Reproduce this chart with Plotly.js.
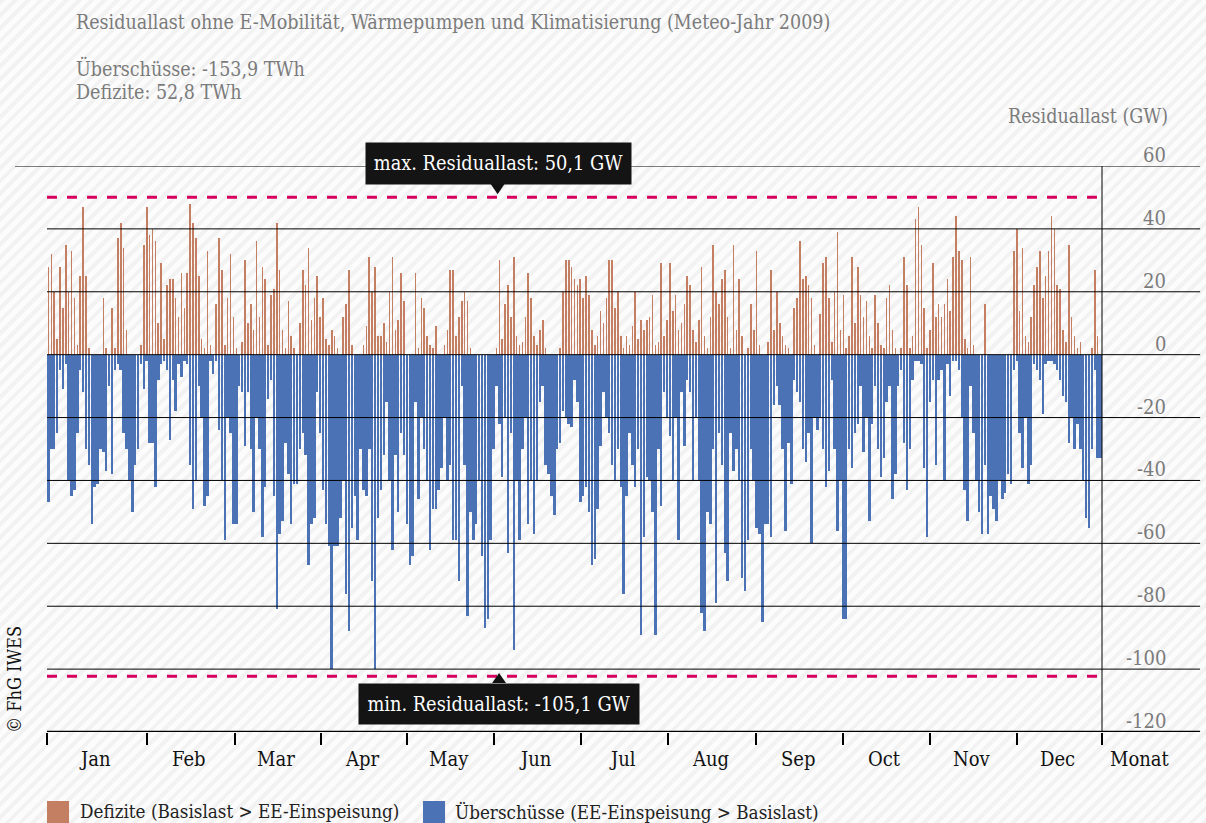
<!DOCTYPE html>
<html><head><meta charset="utf-8">
<script src="https://cdn.plot.ly/plotly-3.0.1.min.js"></script>
<style>
html,body{margin:0;padding:0;}
body{width:1206px;height:823px;overflow:hidden;background-color:#f7f7f7;
background-image:repeating-linear-gradient(135deg,#f2f2f2 0px,#f2f2f2 4px,#fcfcfc 4px,#fcfcfc 9px);}
#chart{width:1206px;height:823px;}
</style></head><body><div id="chart"></div><script>
// Daily maximum deficit (GW, positive residual load)
const deficits = [28,32,20,5,28,15,35,20,33,18,
3,25,47,25,2,0,0,0,0,18,
2,0,15,2,37,42,34,8,0,0,
0,0,3,35,47,38,40,36,10,29,
5,22,24,24,18,12,26,15,26,48,
42,37,25,5,2,33,3,0,16,37,
27,3,18,32,12,2,0,4,30,10,
16,8,36,12,28,24,3,19,21,42,
27,8,2,17,6,2,0,10,27,22,
34,11,18,25,12,18,5,3,8,6,
2,0,12,16,27,3,0,0,0,3,
9,31,20,28,6,6,10,4,20,31,
8,11,26,17,0,0,0,26,2,18,
15,6,3,2,9,0,0,3,8,27,
27,6,12,17,20,17,2,0,0,0,
0,0,0,0,0,2,30,5,16,22,
12,31,6,3,4,12,26,18,6,3,
8,11,2,0,0,0,0,2,20,30,
30,28,24,22,24,18,25,19,8,3,
6,14,10,18,30,30,15,20,6,2,
6,3,9,20,5,11,8,11,12,19,
3,4,29,6,11,29,14,19,8,10,
16,25,22,8,4,11,28,6,2,12,
35,20,16,24,27,12,2,35,8,24,
6,0,2,16,8,33,3,0,0,4,
27,8,20,10,6,3,2,0,15,18,
36,24,25,22,18,3,0,13,29,31,
18,4,20,39,8,19,2,6,31,10,
28,19,12,17,6,2,19,10,3,2,
18,22,8,2,0,2,31,22,2,6,
43,47,35,15,2,8,29,12,16,12,
16,24,14,31,44,33,30,5,2,31,
3,0,0,0,16,0,0,0,0,0,
0,0,0,0,33,40,14,34,6,4,
12,22,28,33,18,25,33,44,40,22,
21,8,4,35,12,6,2,4,0,0,
0,2,27,6,0];

// Daily maximum surplus (GW, negative residual load)
const surpluses = [-47,-30,-30,-25,-5,-11,-3,-40,-45,-43,
-25,-5,-12,-30,-35,-54,-42,-41,-30,-31,
-37,-10,-38,-5,-3,-5,-25,-30,-40,-50,
-35,-30,-3,-11,-2,-28,-28,-42,-8,-3,
-2,-5,-27,-8,-18,-3,-7,-2,-3,-35,
-49,-40,-10,-20,-48,-45,-2,-6,-2,-24,
-40,-59,-20,-25,-54,-54,-10,-12,-29,-12,
-30,-50,-20,-30,-58,-42,-14,-8,-45,-81,
-57,-53,-28,-38,-54,-41,-41,-30,-25,-32,
-67,-54,-52,-12,-25,-43,-54,-61,-100,-61,
-61,-52,-40,-76,-88,-55,-45,-59,-30,-43,
-45,-30,-72,-100,-52,-43,-32,-15,-40,-62,
-32,-50,-25,-32,-54,-67,-64,-15,-46,-20,
-30,-40,-62,-49,-49,-43,-36,-20,-40,-35,
-59,-59,-72,-10,-35,-83,-50,-59,-54,-40,
-64,-87,-84,-59,-30,-10,-22,-39,-20,-63,
-25,-94,-40,-59,-30,-20,-54,-40,-57,-40,
-15,-10,-35,-38,-45,-51,-30,-28,-18,-20,
-22,-23,-8,-15,-47,-45,-42,-50,-67,-65,
-49,-29,-12,-20,-25,-35,-40,-30,-42,-76,
-45,-25,-35,-42,-30,-89,-58,-39,-40,-50,
-89,-30,-48,-12,-20,-26,-40,-20,-59,-12,
-29,-8,-12,-40,-20,-40,-82,-88,-50,-54,
-30,-79,-25,-35,-63,-72,-25,-37,-30,-40,
-71,-75,-59,-30,-40,-55,-57,-85,-54,-54,
-58,-16,-10,-16,-30,-56,-28,-41,-8,-12,
-15,-30,-34,-25,-60,-20,-24,-20,-30,-42,
-37,-8,-30,-56,-40,-84,-84,-30,-36,-25,
-22,-10,-31,-20,-53,-22,-10,-30,-39,-33,
-15,-10,-46,-38,-10,-5,-28,-43,-30,-8,
-2,-2,-3,-36,-58,-15,-8,-35,-8,-5,
-40,-3,-13,-2,-2,-5,-20,-43,-53,-10,
-25,-40,-50,-57,-35,-57,-45,-49,-53,-40,
-46,-44,-38,-41,-5,-2,-25,-36,-20,-41,
-35,-3,-5,-8,-19,-3,-2,-2,-3,-5,
-8,-13,-15,-28,-20,-30,-22,-30,-40,-52,
-55,-30,-5,-33,-33];

// Month boundaries on the day axis (as drawn in the chart) and labels
const monthBounds = [0, 34.6, 65.0, 94.8, 124.6, 154.7, 184.8, 214.9, 245.3, 275.4, 305.5, 335.6, 365];
const monthLabels = ['Jan','Feb','Mar','Apr','May','Jun','Jul','Aug','Sep','Oct','Nov','Dec'];
const yTicks = [60, 40, 20, 0, -20, -40, -60, -80, -100, -120];

const maxLoad = 50.1, maxLabel = 'max. Residuallast: 50,1 GW';
const minLineDrawn = -102.3, minLabel = 'min. Residuallast: -105,1 GW';
const titleText = 'Residuallast ohne E-Mobilität, Wärmepumpen und Klimatisierung (Meteo-Jahr 2009)';
const sumSurplus = 'Überschüsse: -153,9 TWh';
const sumDeficit = 'Defizite: 52,8 TWh';
const legendDef = 'Defizite (Basislast > EE-Einspeisung)';
const legendSur = 'Überschüsse (EE-Einspeisung > Basislast)';

const ORANGE = '#c47e62', BLUE = '#4a72b5', MAGENTA = '#d6005f';
const FONT = '"DejaVu Serif Condensed","DejaVu Serif",serif';
const GRAY = '#7b7b7b';

const xs = deficits.map((_, i) => i + 0.5);

const traces = [
  {type:'bar', x: xs, y: deficits, width: 0.55, marker:{color: ORANGE, line:{width:0}}, hoverinfo:'skip', showlegend:false},
  {type:'bar', x: xs, y: surpluses, width: 0.85, marker:{color: BLUE, line:{width:0}}, hoverinfo:'skip', showlegend:false}
];

const gridRight = 1.093;
const shapes = [];
yTicks.forEach(v => {
  shapes.push({type:'line', xref:'paper', yref:'y', x0: v === 60 ? -0.0303 : 0, x1:gridRight, y0:v, y1:v,
    line:{color:'#000', width: v === -120 ? 2.5 : 1}, layer:'above'});
});
shapes.push({type:'line', xref:'paper', yref:'y', x0:1, x1:1, y0:-120, y1:60, line:{color:'#000', width:1}, layer:'above'});
shapes.push({type:'line', xref:'paper', yref:'y', x0:0, x1:1, y0:maxLoad, y1:maxLoad, line:{color:MAGENTA, width:3, dash:'10px,10px'}, layer:'above'});
shapes.push({type:'line', xref:'paper', yref:'y', x0:0, x1:1, y0:minLineDrawn, y1:minLineDrawn, line:{color:MAGENTA, width:3, dash:'10px,10px'}, layer:'above'});
// pointers of the callout boxes
shapes.push({type:'path', xref:'x', yref:'y', path:'M153.5,54.3 L158.3,54.3 L155.9,51.0 Z', fillcolor:'#111', line:{width:0}, layer:'above'});
shapes.push({type:'path', xref:'x', yref:'y', path:'M154.0,-104.4 L158.8,-104.4 L156.4,-101.2 Z', fillcolor:'#111', line:{width:0}, layer:'above'});
// legend swatches
shapes.push({type:'rect', xref:'paper', yref:'paper', x0:0, x1:0.0209, y0:-0.1608, y1:-0.1219, fillcolor:ORANGE, line:{width:0}});
shapes.push({type:'rect', xref:'paper', yref:'paper', x0:0.3564, x1:0.3773, y0:-0.1608, y1:-0.1219, fillcolor:BLUE, line:{width:0}});

const annotations = [];
function txt(text, x, y, opts) {
  annotations.push(Object.assign({text, x, y, xref:'paper', yref:'paper', showarrow:false,
    xanchor:'left', yanchor:'middle', font:{family:FONT, size:19.5, color:GRAY}}, opts || {}));
}
txt(titleText, 0.0256, 1.2544);
txt(sumSurplus, 0.0256, 1.1714);
txt(sumDeficit, 0.0256, 1.1307);
txt('Residuallast (GW)', 1.0645, 1.0883, {xanchor:'right'});
yTicks.forEach(v => {
  annotations.push({text: String(v), x:1.0626, y:v, xref:'paper', yref:'y', showarrow:false,
    xanchor:'right', yanchor:'middle', yshift:11, font:{family:FONT, size:20, color:GRAY}});
});
monthLabels.forEach((m, i) => {
  annotations.push({text:m, x:(monthBounds[i] + monthBounds[i+1]) / 2 - 0.7, y:-0.0477, xref:'x', yref:'paper',
    showarrow:false, xanchor:'center', yanchor:'middle', font:{family:FONT, size:20, color:'#111'}});
});
txt('Monat', 1.036, -0.0477, {xanchor:'center', font:{family:FONT, size:20, color:'#111'}});
txt(legendDef, 0.0294, -0.1413, {font:{family:FONT, size:18.7, color:'#222'}});
txt(legendSur, 0.3848, -0.1413, {font:{family:FONT, size:18.7, color:'#222'}});
txt('© FhG IWES', -0.0303, 0.0919, {xanchor:'center', textangle:-90, font:{family:FONT, size:18, color:'#111'}});
annotations.push({text:maxLabel, x:0.428, y:1.0044, xref:'paper', yref:'paper', showarrow:false,
  xanchor:'center', yanchor:'middle', width:265, height:41, borderpad:0, bgcolor:'#141414',
  font:{family:FONT, size:19.8, color:'#fff'}});
annotations.push({text:minLabel, x:0.428, y:0.0495, xref:'paper', yref:'paper', showarrow:false,
  xanchor:'center', yanchor:'middle', width:280, height:40, borderpad:0, bgcolor:'#141414',
  font:{family:FONT, size:19.8, color:'#fff'}});

const layout = {
  width:1206, height:823,
  margin:{l:47, r:104, t:166, b:91, pad:0},
  paper_bgcolor:'rgba(0,0,0,0)', plot_bgcolor:'rgba(0,0,0,0)',
  barmode:'overlay', bargap:0,
  showlegend:false,
  xaxis:{range:[0,365], showgrid:false, zeroline:false, showline:false,
    tickmode:'array', tickvals:monthBounds, ticktext:monthBounds.map(() => ''),
    ticks:'outside', ticklen:12, tickwidth:2.5, tickcolor:'#000', fixedrange:true},
  yaxis:{range:[-120,60], showgrid:false, zeroline:false, showticklabels:false, ticks:'', fixedrange:true},
  shapes, annotations
};
Plotly.newPlot('chart', traces, layout, {displayModeBar:false, staticPlot:true});
</script></body></html>
